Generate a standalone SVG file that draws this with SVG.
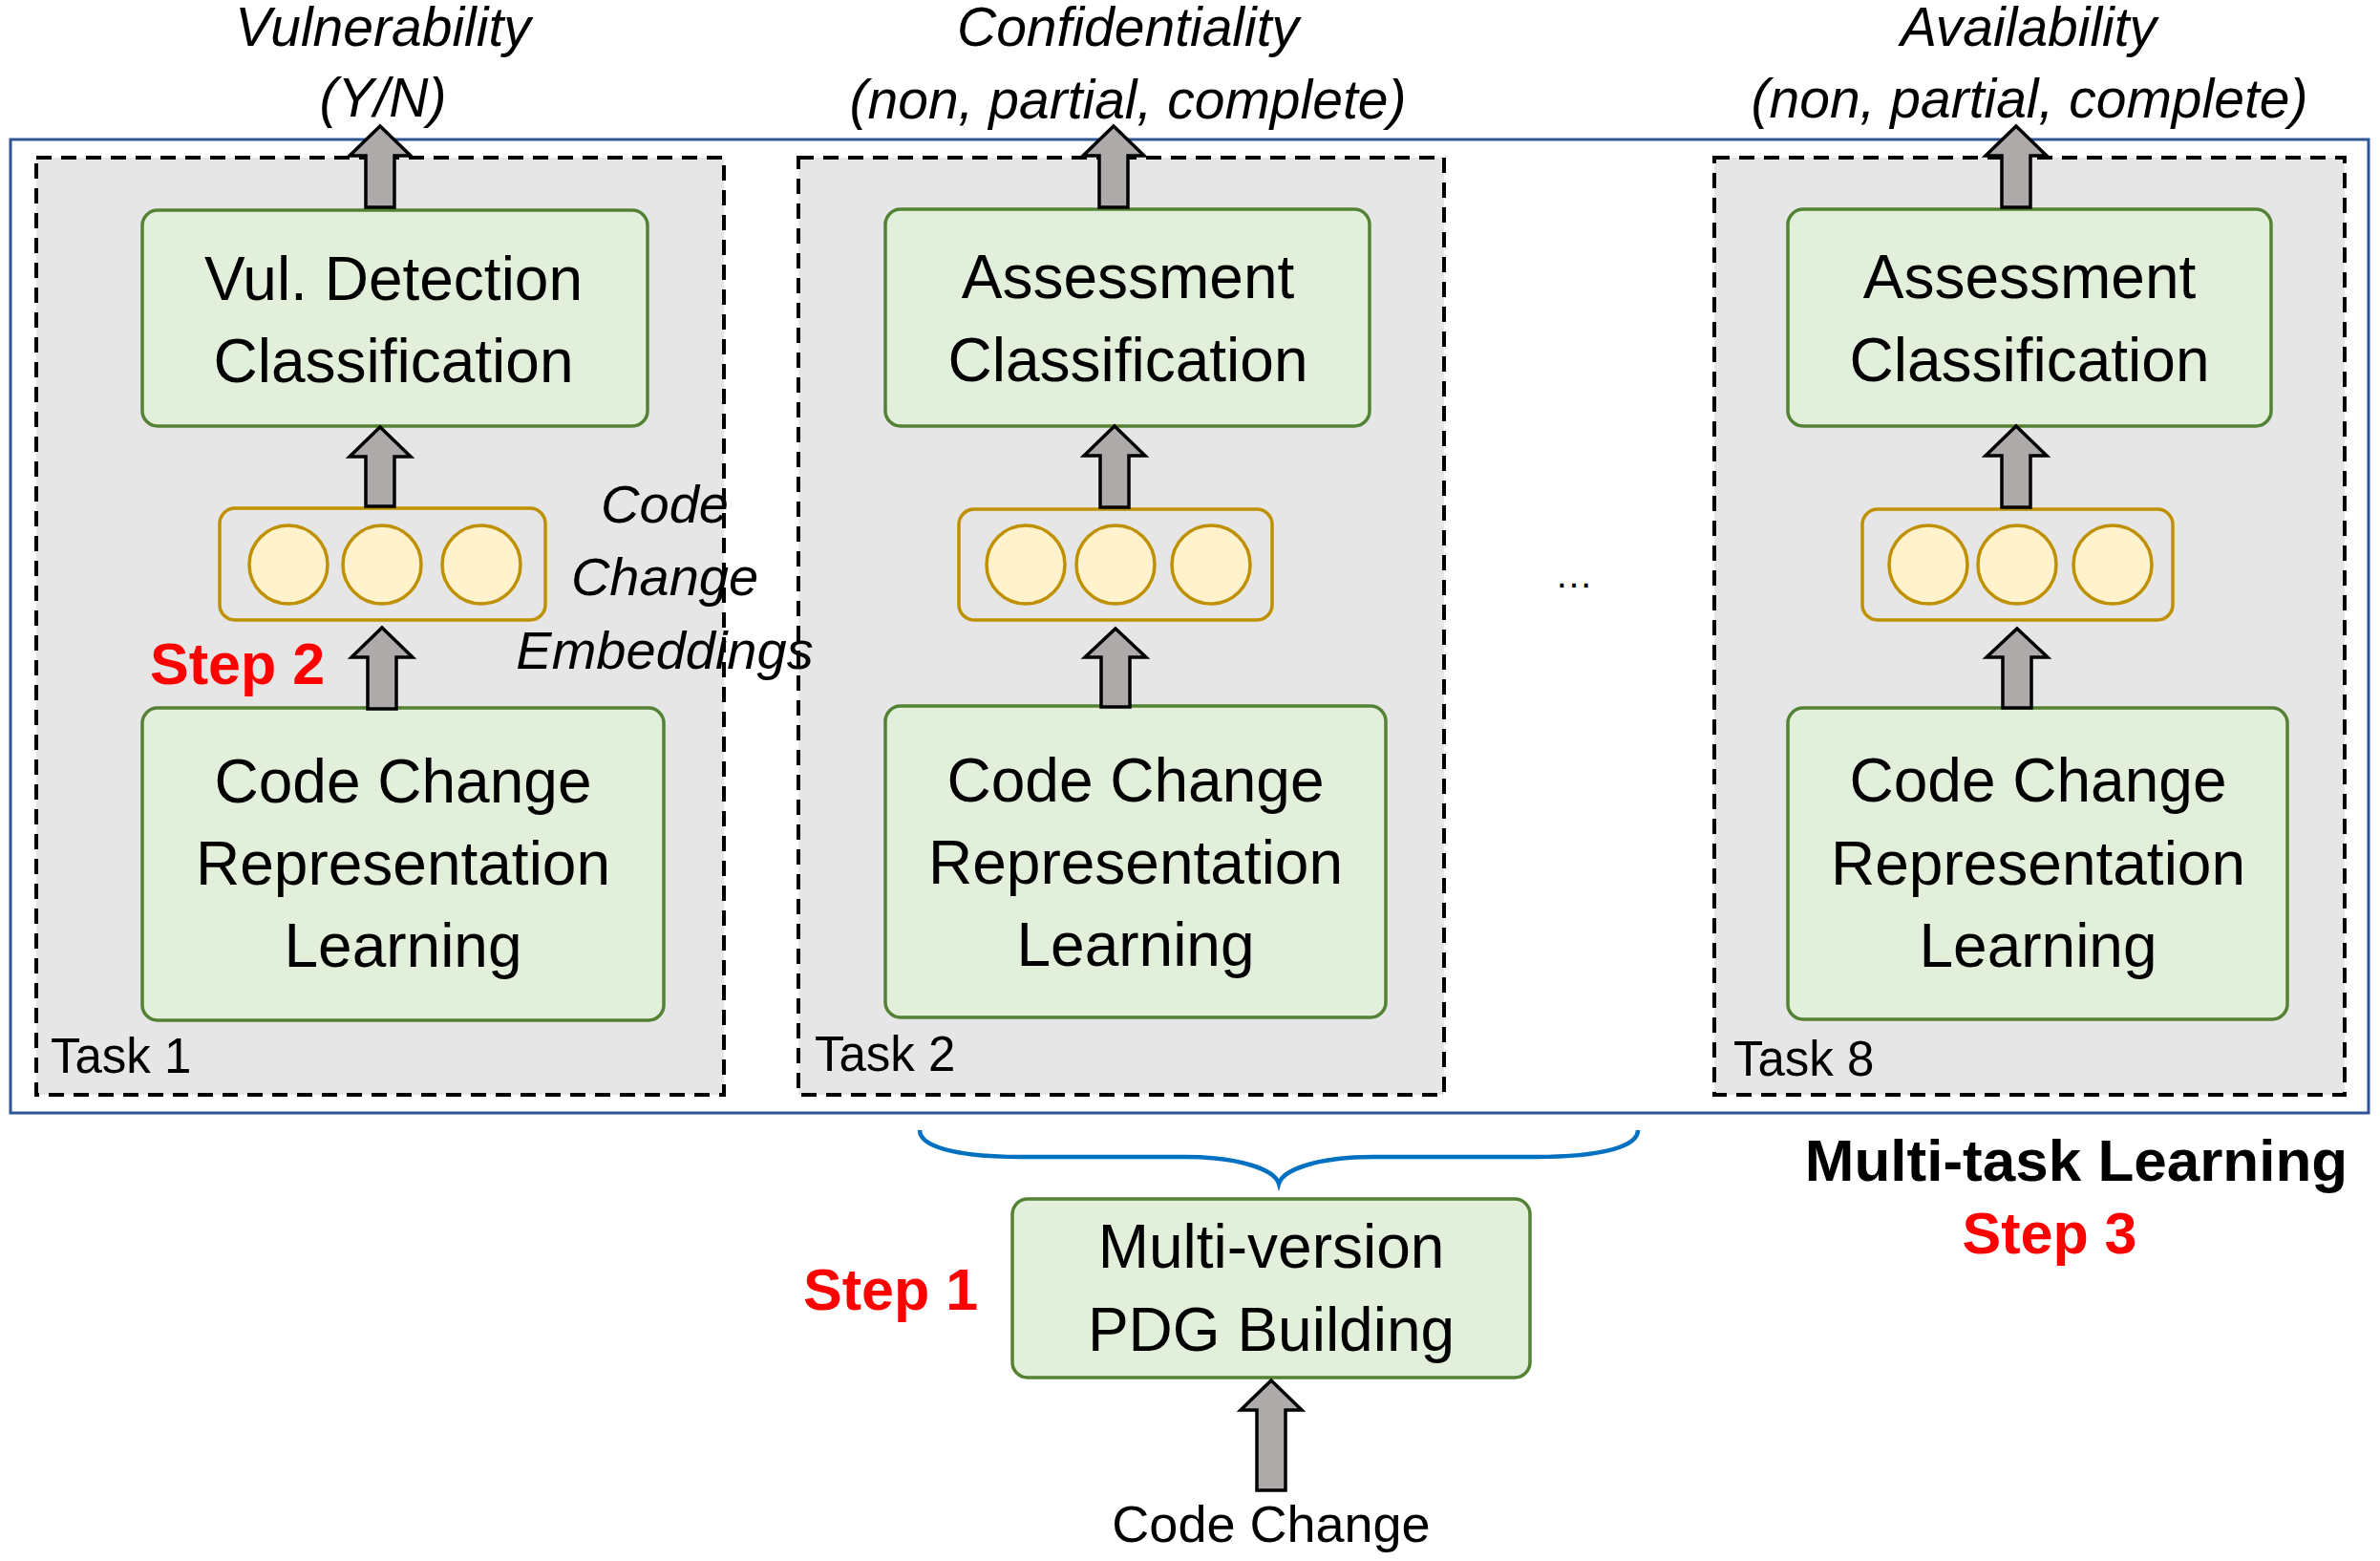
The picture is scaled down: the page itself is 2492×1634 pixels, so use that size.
<svg xmlns="http://www.w3.org/2000/svg" width="2492" height="1634" viewBox="0 0 2492 1634">
<style>
text{font-family:"Liberation Sans",Arial,sans-serif;fill:#000}
.lbl{font-size:57px;font-style:italic;text-anchor:middle}
.box{font-size:64px;text-anchor:middle}
.task{font-size:51px}
.step{font-size:61px;font-weight:bold;fill:#FF0000}
.emb{font-size:56px;font-style:italic;text-anchor:middle}
.outer{fill:none;stroke:#2F5597;stroke-width:3}
.dash{fill:#E6E6E6;stroke:#000;stroke-width:4;stroke-dasharray:16 10}
.green{fill:#E2EFDA;stroke:#548235;stroke-width:3.5}
.embox{fill:none;stroke:#BF9000;stroke-width:3.5}
.dot{fill:#FFF2CC;stroke:#BF9000;stroke-width:3.5}
.arrow{fill:#AEAAAA;stroke:#000;stroke-width:3.5;stroke-linejoin:miter}
.brace{fill:none;stroke:#0070C0;stroke-width:4.5}
</style>
<rect width="2492" height="1634" fill="#fff"/>
<g id="multi-task-frame">
<rect class="outer" x="11" y="146" width="2469" height="1019"/>
</g>
<g id="task1">
<rect class="dash" x="38" y="165" width="720" height="981"/>
<text class="task" x="53" y="1123">Task 1</text>
</g>
<g id="task2">
<rect class="dash" x="836" y="165" width="676" height="981"/>
<text class="task" x="853" y="1121">Task 2</text>
</g>
<g id="task8">
<rect class="dash" x="1795" y="165" width="660" height="981"/>
<text class="task" x="1815" y="1126">Task 8</text>
</g>
<g id="vul-detection">
<rect class="green" x="149" y="220" width="529" height="226" rx="16"/>
<text class="box" x="412" y="314">Vul. Detection</text>
<text class="box" x="412" y="400">Classification</text>
</g>
<g id="embedding1">
<rect class="embox" x="230" y="532" width="341" height="117" rx="16"/>
<circle class="dot" cx="302" cy="591" r="41"/>
<circle class="dot" cx="400" cy="591" r="41"/>
<circle class="dot" cx="504" cy="591" r="41"/>
</g>
<g id="repr1">
<rect class="green" x="149" y="741" width="546" height="327" rx="16"/>
<text class="box" x="422" y="840">Code Change</text>
<text class="box" x="422" y="926">Representation</text>
<text class="box" x="422" y="1012">Learning</text>
</g>
<g id="assess2">
<rect class="green" x="927" y="219" width="507" height="227" rx="16"/>
<text class="box" x="1181" y="312">Assessment</text>
<text class="box" x="1181" y="399">Classification</text>
</g>
<g id="embedding2">
<rect class="embox" x="1004" y="533" width="328" height="116" rx="16"/>
<circle class="dot" cx="1074" cy="591" r="41"/>
<circle class="dot" cx="1168" cy="591" r="41"/>
<circle class="dot" cx="1268" cy="591" r="41"/>
</g>
<g id="repr2">
<rect class="green" x="927" y="739" width="524" height="326" rx="16"/>
<text class="box" x="1189" y="839">Code Change</text>
<text class="box" x="1189" y="925">Representation</text>
<text class="box" x="1189" y="1011">Learning</text>
</g>
<g id="assess8">
<rect class="green" x="1872" y="219" width="506" height="227" rx="16"/>
<text class="box" x="2125" y="312">Assessment</text>
<text class="box" x="2125" y="399">Classification</text>
</g>
<g id="embedding8">
<rect class="embox" x="1950" y="533" width="325" height="116" rx="16"/>
<circle class="dot" cx="2019" cy="591" r="41"/>
<circle class="dot" cx="2112" cy="591" r="41"/>
<circle class="dot" cx="2212" cy="591" r="41"/>
</g>
<g id="repr8">
<rect class="green" x="1872" y="741" width="523" height="326" rx="16"/>
<text class="box" x="2134" y="839">Code Change</text>
<text class="box" x="2134" y="926">Representation</text>
<text class="box" x="2134" y="1012">Learning</text>
</g>
<g id="pdg">
<rect class="green" x="1060" y="1255" width="542" height="187" rx="16"/>
<text class="box" x="1331" y="1327">Multi-version</text>
<text class="box" x="1331" y="1414">PDG Building</text>
</g>
<g id="labels">
<text class="lbl" x="401" y="48">Vulnerability</text>
<text class="lbl" x="401" y="122">(Y/N)</text>
<text class="lbl" x="1181" y="48">Confidentiality</text>
<text class="lbl" x="1181" y="124">(non, partial, complete)</text>
<text class="lbl" x="2124" y="48">Availability</text>
<text class="lbl" x="2125" y="123">(non, partial, complete)</text>
<text class="emb" x="696" y="547">Code</text>
<text class="emb" x="696" y="623">Change</text>
<text class="emb" x="696" y="700">Embeddings</text>
<text class="step" x="157" y="716">Step 2</text>
<text class="step" x="841" y="1371">Step 1</text>
<text class="step" x="2146" y="1312" text-anchor="middle">Step 3</text>
<text x="2174" y="1236" text-anchor="middle" style="font-size:62px;font-weight:bold">Multi-task Learning</text>
<text x="1648" y="615" text-anchor="middle" style="font-size:40px">…</text>
<text x="1331" y="1614" text-anchor="middle" style="font-size:54px">Code Change</text>
</g>
<g id="connectors">
<path class="arrow" d="M398 132 L430 163 L413 163 L413 217 L383 217 L383 163 L366 163 Z"/>
<path class="arrow" d="M398 447 L430 478 L413 478 L413 530 L383 530 L383 478 L366 478 Z"/>
<path class="arrow" d="M400 657 L432 688 L415 688 L415 742 L385 742 L385 688 L368 688 Z"/>
<path class="arrow" d="M1166 132 L1198 163 L1181 163 L1181 217 L1151 217 L1151 163 L1134 163 Z"/>
<path class="arrow" d="M1167 446 L1199 477 L1182 477 L1182 531 L1152 531 L1152 477 L1135 477 Z"/>
<path class="arrow" d="M1168 658 L1200 688 L1183 688 L1183 740 L1153 740 L1153 688 L1136 688 Z"/>
<path class="arrow" d="M2111 132 L2143 163 L2126 163 L2126 217 L2096 217 L2096 163 L2079 163 Z"/>
<path class="arrow" d="M2111 446 L2143 477 L2126 477 L2126 531 L2096 531 L2096 477 L2079 477 Z"/>
<path class="arrow" d="M2112 658 L2144 688 L2127 688 L2127 741 L2097 741 L2097 688 L2080 688 Z"/>
<path class="arrow" d="M1331 1445 L1363 1476 L1346 1476 L1346 1560 L1316 1560 L1316 1476 L1299 1476 Z"/>
<path class="brace" d="M963 1183 C963 1200 1000 1211 1070 1211 L1240 1211 C1300 1211 1335 1225 1339 1239 C1343 1225 1378 1211 1438 1211 L1608 1211 C1678 1211 1715 1200 1715 1183"/>
</g>
</svg>
